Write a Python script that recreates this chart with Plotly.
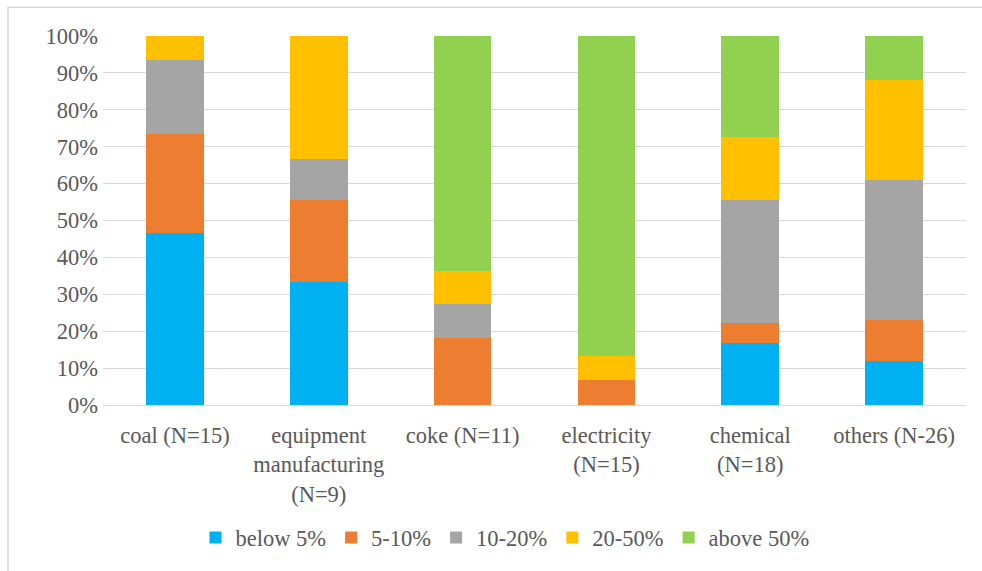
import plotly.graph_objects as go

categories = ["coal (N=15)", "equipment<br>manufacturing<br>(N=9)", "coke (N=11)",
              "electricity<br>(N=15)", "chemical<br>(N=18)", "others (N-26)"]
below5 = [46.7, 33.3, 0, 0, 16.7, 12.0]
p5_10 = [26.7, 22.2, 18.2, 6.7, 5.6, 11.0]
p10_20 = [20.0, 11.1, 9.1, 0, 33.3, 38.0]
p20_50 = [6.6, 33.4, 9.1, 6.7, 17.1, 27.0]
above50 = [0, 0, 63.6, 86.6, 27.3, 12.0]

series = [
    ("below 5%", below5, "#00B0F0"),
    ("5-10%", p5_10, "#ED7D31"),
    ("10-20%", p10_20, "#A5A5A5"),
    ("20-50%", p20_50, "#FFC000"),
    ("above 50%", above50, "#92D050"),
]

fig = go.Figure()
for name, vals, col in series:
    fig.add_trace(go.Bar(x=categories, y=vals, name=name, marker_color=col,
                         marker_line_width=0))

W, H = 982, 571
L, R, T, B = 103, 16, 36, 163
pw, ph = W - L - R, H - T - B

def px(x):
    return (x - L) / pw

def py(y):
    return (H - B - y) / ph

FS = 22.5
FONT = "Liberation Serif"

fig.update_layout(
    width=W, height=H, barmode="stack", bargap=0.6,
    margin=dict(l=L, r=R, t=T, b=B),
    plot_bgcolor="white", paper_bgcolor="white",
    font=dict(family=FONT, size=FS, color="#595959"),
    yaxis=dict(range=[0, 100], dtick=10, ticksuffix="%", gridcolor="#D9D9D9",
               gridwidth=1.3, zeroline=False, showline=False, ticks="",
               ticklabelstandoff=4, tickfont=dict(family=FONT, size=FS)),
    xaxis=dict(showline=True, linecolor="#D9D9D9", linewidth=1.3, ticks="",
               tickangle=0, ticklabelstandoff=10, tickfont=dict(family=FONT, size=FS)),
    legend=dict(orientation="h", x=px(505), xanchor="center", y=py(542), yanchor="middle",
                font=dict(family=FONT, size=FS), itemwidth=30, traceorder="normal"),
    shapes=[dict(type="rect", xref="paper", yref="paper",
                 x0=px(8), x1=px(990), y0=py(580), y1=py(7),
                 line=dict(color="#D9D9D9", width=1.5), layer="above")],
)

fig.write_html("out.html", config={"displayModeBar": False},
               post_script="document.body.style.margin='0';document.body.style.overflow='hidden';")
